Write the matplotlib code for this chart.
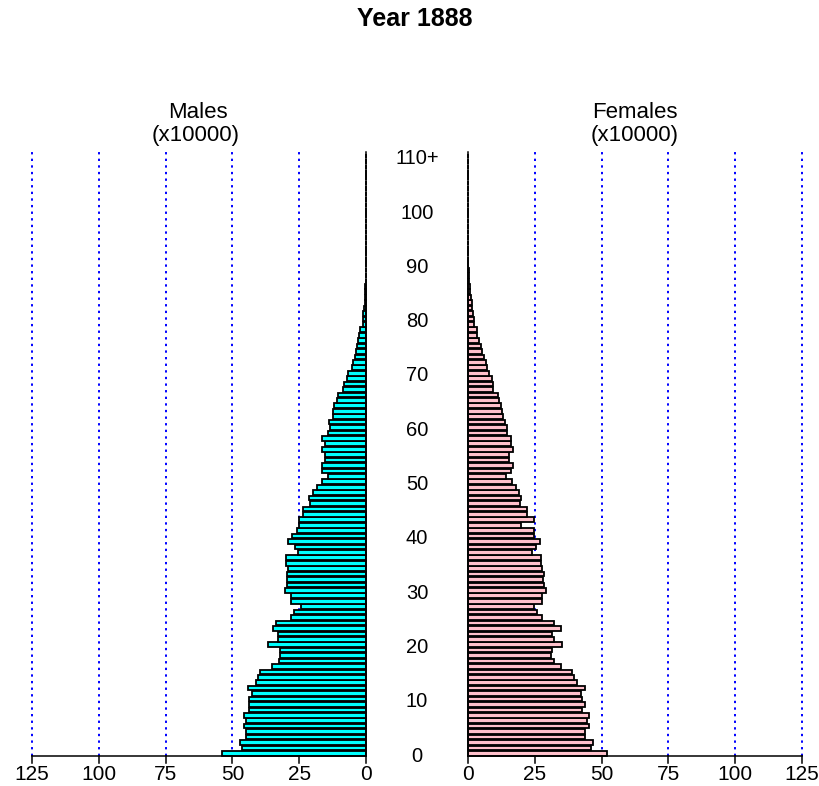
import matplotlib
matplotlib.use('Agg')
import matplotlib.pyplot as plt
import numpy as np

plt.rcParams['font.family'] = ['Liberation Sans', 'DejaVu Sans']

ages = np.arange(0, 111)
males = [54.0, 46.5, 47.3, 44.8, 45.0, 45.6, 45.0, 45.8, 43.8, 43.8,
         43.8, 42.5, 44.2, 41.0, 40.5, 39.8, 35.2, 32.5, 32.0, 32.0,
         36.5, 32.8, 32.8, 34.8, 33.5, 28.2, 26.8, 24.2, 28.0, 28.0,
         30.3, 29.7, 29.4, 29.7, 29.1, 29.9, 29.8, 25.3, 26.6, 29.1,
         27.8, 25.9, 24.9, 24.9, 23.7, 23.5, 21.0, 21.2, 19.7, 18.2,
         16.6, 14.1, 16.6, 16.6, 15.3, 15.3, 16.6, 15.3, 16.6, 14.1,
         13.6, 13.7, 12.2, 12.2, 11.9, 10.7, 10.4, 8.5, 8.1, 7.2,
         6.6, 5.4, 5.0, 4.1, 3.7, 3.2, 2.9, 2.5, 2.2, 1.2,
         1.0, 1.0, 0.8, 0.5, 0.4, 0.3, 0.2, 0.15, 0.1, 0.0,
         0.0, 0.0, 0.0, 0.0, 0.0, 0.0, 0.0, 0.0, 0.0, 0.0,
         0.0, 0.0, 0.0, 0.0, 0.0, 0.0, 0.0, 0.0, 0.0, 0.0, 0.0]
females = [52.1, 45.9, 46.9, 43.7, 43.7, 45.3, 44.7, 45.3, 42.8, 43.7,
           42.8, 42.4, 43.7, 40.7, 39.7, 39.0, 34.7, 32.2, 31.2, 31.6,
           35.3, 32.2, 31.6, 34.7, 32.2, 27.8, 25.9, 24.7, 27.6, 27.6,
           29.1, 28.4, 28.2, 28.4, 27.8, 27.4, 27.4, 24.1, 25.3, 26.9,
           24.7, 24.7, 20.0, 24.7, 22.2, 22.0, 19.5, 20.0, 19.1, 17.8,
           16.6, 14.1, 16.0, 17.0, 15.3, 15.3, 17.0, 16.0, 16.2, 14.7,
           14.7, 13.7, 13.2, 12.8, 12.5, 11.6, 11.4, 9.5, 9.5, 9.1,
           7.9, 7.2, 6.6, 6.0, 5.4, 5.0, 4.1, 3.5, 3.2, 2.2,
           2.2, 2.0, 1.6, 1.6, 1.0, 0.8, 0.6, 0.4, 0.3, 0.2,
           0.0, 0.0, 0.0, 0.0, 0.0, 0.0, 0.0, 0.0, 0.0, 0.0,
           0.0, 0.0, 0.0, 0.0, 0.0, 0.0, 0.0, 0.0, 0.0, 0.0, 0.0]
ticks = [0, 25, 50, 75, 100, 125]
age_label_pos = [0, 10, 20, 30, 40, 50, 60, 70, 80, 90, 100, 110]
age_labels = ['0', '10', '20', '30', '40', '50', '60', '70', '80', '90', '100', '110+']

W, H = 819, 786
fig = plt.figure(figsize=(W / 100, H / 100), dpi=100)
ax = fig.add_axes([0, 0, 1, 1])
cx, sx = 417.0, 2.672
y0, sy = 753.3, 5.43
ax.set_xlim(-cx / sx, (W - cx) / sx)
ax.set_ylim((y0 - H) / sy, y0 / sy)
ax.axis('off')
half = (468 - 366) / 2 / sx

males_a = np.array(males)
females_a = np.array(females)

ybot, ytop = -0.5, 110.8
dot = (0, (1.2, 2.2))
for t in ticks[1:]:
    ax.plot([-half - t] * 2, [ybot, ytop], color='#0000ff', ls=dot, lw=1.4, zorder=1)
    ax.plot([half + t] * 2, [ybot, ytop], color='#0000ff', ls=dot, lw=1.4, zorder=1)

ax.barh(ages, males_a, left=-half - males_a, height=0.86, color='#00ffff',
        edgecolor='black', linewidth=1.3, zorder=2)
ax.barh(ages, females_a, left=half, height=0.86, color='#ffc0cb',
        edgecolor='black', linewidth=1.3, zorder=2)

# axes lines
ax.plot([-half - 125, -half], [ybot, ybot], color='black', lw=1.1, zorder=3)
ax.plot([half, half + 125], [ybot, ybot], color='black', lw=1.1, zorder=3)
ax.plot([-half, -half], [ybot, ytop], color='black', lw=1.1, zorder=3)
ax.plot([half, half], [ybot, ytop], color='black', lw=1.1, zorder=3)
tick_len = 7 / sy
ylab = (y0 - 774) / sy
for t in ticks:
    ax.plot([-half - t] * 2, [ybot, ybot - tick_len], color='black', lw=1.1)
    ax.plot([half + t] * 2, [ybot, ybot - tick_len], color='black', lw=1.1)
    ax.text(-half - t, ylab, str(t), ha='center', va='center', fontsize=15)
    ax.text(half + t, ylab, str(t), ha='center', va='center', fontsize=15)

for p, lab in zip(age_label_pos, age_labels):
    ax.text(0, p - 0.5, lab, ha='center', va='center', fontsize=14.5)

def fy(py):
    return 1 - py / H

fig.text(415 / W, fy(19), 'Year 1888', ha='center', va='center', fontsize=18, fontweight='bold')
fig.text(198 / W, fy(112), 'Males', ha='center', va='center', fontsize=16)
fig.text(196 / W, fy(135), '(x10000)', ha='center', va='center', fontsize=16)
fig.text(635 / W, fy(112), 'Females', ha='center', va='center', fontsize=16)
fig.text(635 / W, fy(135), '(x10000)', ha='center', va='center', fontsize=16)

fig.savefig('out.png', dpi=100)
